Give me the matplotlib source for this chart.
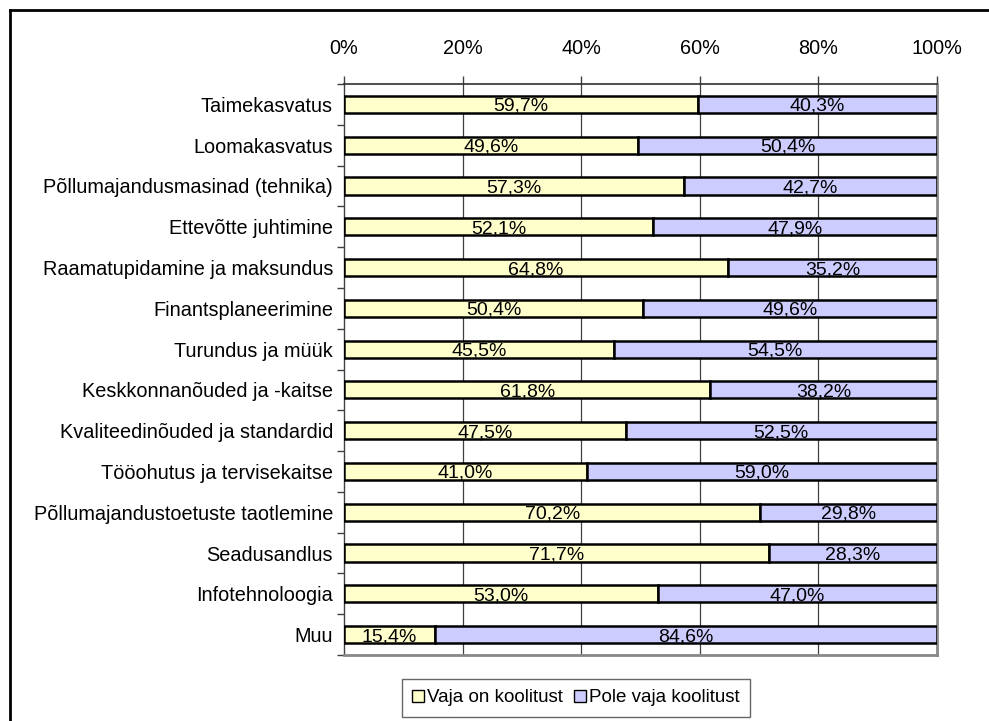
import matplotlib
matplotlib.use("Agg")
import matplotlib.pyplot as plt
from matplotlib.patches import Patch
from matplotlib.lines import Line2D
import numpy as np

plt.rcParams['font.family'] = ['Liberation Sans', 'DejaVu Sans']

categories = [
    "Taimekasvatus",
    "Loomakasvatus",
    "Põllumajandusmasinad (tehnika)",
    "Ettevõtte juhtimine",
    "Raamatupidamine ja maksundus",
    "Finantsplaneerimine",
    "Turundus ja müük",
    "Keskkonnanõuded ja -kaitse",
    "Kvaliteedinõuded ja standardid",
    "Tööohutus ja tervisekaitse",
    "Põllumajandustoetuste taotlemine",
    "Seadusandlus",
    "Infotehnoloogia",
    "Muu",
]
vaja = [59.7, 49.6, 57.3, 52.1, 64.8, 50.4, 45.5, 61.8, 47.5, 41.0, 70.2, 71.7, 53.0, 15.4]
pole = [40.3, 50.4, 42.7, 47.9, 35.2, 49.6, 54.5, 38.2, 52.5, 59.0, 29.8, 28.3, 47.0, 84.6]
series_names = ["Vaja on koolitust", "Pole vaja koolitust"]
xticks = [0, 20, 40, 60, 80, 100]

c1 = "#FFFFCC"
c2 = "#CCCCFF"

fig = plt.figure(figsize=(9.89, 7.21), dpi=100)
W, H = 989, 721
ax = fig.add_axes([344 / W, 1 - 655 / H, (937 - 344) / W, (655 - 84) / H])

n = len(categories)
y = np.arange(n)
h = 0.42
ax.barh(y, vaja, height=h, color=c1, edgecolor="black", linewidth=1.8, zorder=3)
ax.barh(y, pole, left=vaja, height=h, color=c2, edgecolor="black", linewidth=1.8, zorder=3)

fs = 14
for i in range(n):
    ax.text(vaja[i] / 2, y[i] + 0.16, f"{vaja[i]:.1f}%".replace(".", ","),
            ha="center", va="baseline", fontsize=fs, zorder=4)
    ax.text(vaja[i] + pole[i] / 2, y[i] + 0.16, f"{pole[i]:.1f}%".replace(".", ","),
            ha="center", va="baseline", fontsize=fs, zorder=4)

ax.set_xlim(0, 100)
ax.set_ylim(n - 0.5, -0.5)
ax.set_xticks(xticks)
ax.set_xticklabels([f"{t}%" for t in xticks], fontsize=14.3)
ax.xaxis.tick_top()
ax.tick_params(axis="x", which="major", length=6, width=1, color="#404040", pad=13)
ax.set_yticks(y)
ax.set_yticklabels(categories, fontsize=14.3)
ax.tick_params(axis="y", which="major", length=0, pad=8)
ax.set_yticks(np.arange(n + 1) - 0.5, minor=True)
ax.tick_params(axis="y", which="minor", length=5, width=1, color="#404040")

for t in xticks[1:-1]:
    ax.axvline(t, color="#404040", linewidth=0.9, zorder=1)

ax.spines["top"].set_color("#303030")
ax.spines["top"].set_linewidth(1.2)
ax.spines["left"].set_color("#404040")
ax.spines["left"].set_linewidth(1.0)
ax.spines["right"].set_color("#888888")
ax.spines["right"].set_linewidth(2)
ax.spines["bottom"].set_color("#888888")
ax.spines["bottom"].set_linewidth(2)

handles = [Patch(facecolor=c1, edgecolor="black", linewidth=1),
           Patch(facecolor=c2, edgecolor="black", linewidth=1)]
leg = fig.legend(handles, series_names, loc="center", bbox_to_anchor=(576 / W, 1 - 698 / H),
                 ncol=2, fontsize=13.5, frameon=True, fancybox=False, edgecolor="#404040",
                 handlelength=0.65, handleheight=0.65, handletextpad=0.15, columnspacing=0.6,
                 borderpad=0.55, borderaxespad=0)
leg.get_frame().set_linewidth(1)

# outer frame
fig.add_artist(Line2D([10 / W, 1.0], [1 - 10 / H, 1 - 10 / H], color="black", linewidth=2,
                      transform=fig.transFigure))
fig.add_artist(Line2D([10 / W, 10 / W], [0, 1 - 10 / H], color="black", linewidth=2,
                      transform=fig.transFigure))

fig.savefig("out.png", dpi=100)
